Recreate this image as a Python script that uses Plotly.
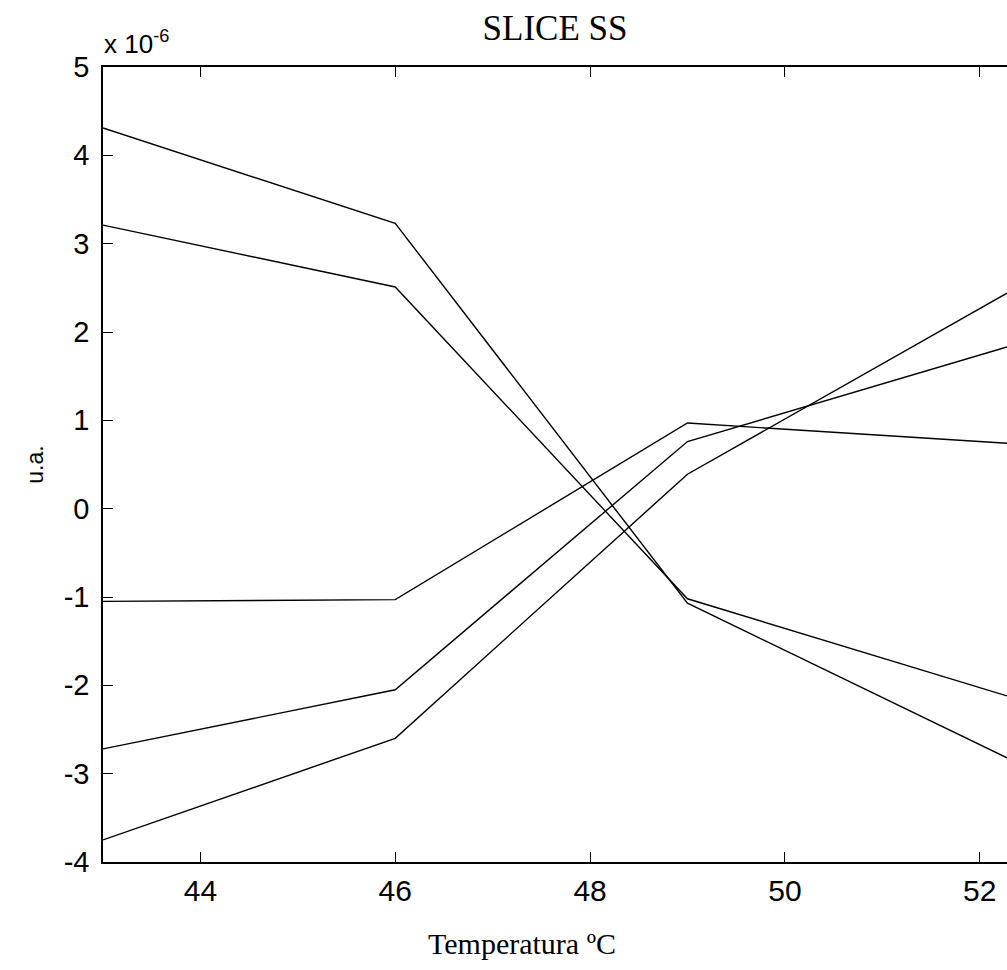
import plotly.graph_objects as go

temps = [43, 46, 49, 52.28]
# values in units of 1e-6 (u.a.)
s1 = [4.31, 3.23, -1.07, -2.82]
s2 = [3.21, 2.51, -1.02, -2.12]
s3 = [-1.05, -1.03, 0.97, 0.74]
s4 = [-2.72, -2.05, 0.76, 1.83]
s5 = [-3.75, -2.60, 0.39, 2.44]
series = [s1, s2, s3, s4, s5]

xticks = [44, 46, 48, 50, 52]
yticks = [-4, -3, -2, -1, 0, 1, 2, 3, 4, 5]

fig = go.Figure()
for s in series:
    fig.add_trace(go.Scatter(x=temps, y=s, mode="lines",
                             line=dict(color="black", width=1.4),
                             showlegend=False, hoverinfo="skip"))

sans = "Liberation Sans"
serif = "Liberation Serif"

fig.update_layout(
    width=1007, height=970,
    margin=dict(l=103, r=0, t=67, b=108),
    paper_bgcolor="white", plot_bgcolor="white",
    title=dict(text="SLICE SS", x=555/1007, xanchor="center", y=1-28/970, yanchor="middle",
               font=dict(family=serif, size=35, color="black")),
    xaxis=dict(range=[43, 52.28], tickvals=xticks, ticktext=[str(t) for t in xticks],
               showgrid=False, zeroline=False, showline=True, linecolor="black", linewidth=1.5,
               mirror="ticks", ticks="inside", ticklen=10, tickwidth=1.2, tickcolor="black",
               tickfont=dict(family=sans, size=30, color="black"), ticklabelstandoff=1),
    yaxis=dict(range=[-4, 5], tickvals=yticks, ticktext=[str(t) for t in yticks],
               showgrid=False, zeroline=False, showline=True, linecolor="black", linewidth=1.5,
               ticks="inside", ticklen=10, tickwidth=1.2, tickcolor="black",
               tickfont=dict(family=sans, size=29, color="black"), ticklabelstandoff=6,
               title=dict(text="u.a.", font=dict(family=sans, size=23, color="black"), standoff=14)),
)

fig.add_annotation(text="Temperatura ºC", xref="paper", yref="paper",
                   x=(522 - 103) / 904, y=-(943 - 862) / 795, xanchor="center", yanchor="middle",
                   showarrow=False, font=dict(family=serif, size=30, color="black"))

fig.add_annotation(text="x 10<sup>-6</sup>", xref="paper", yref="paper",
                   x=0.0, y=1.0, xanchor="left", yanchor="bottom", yshift=6, xshift=-1,
                   showarrow=False, font=dict(family=sans, size=26, color="black"))

fig.write_html("out.html")
